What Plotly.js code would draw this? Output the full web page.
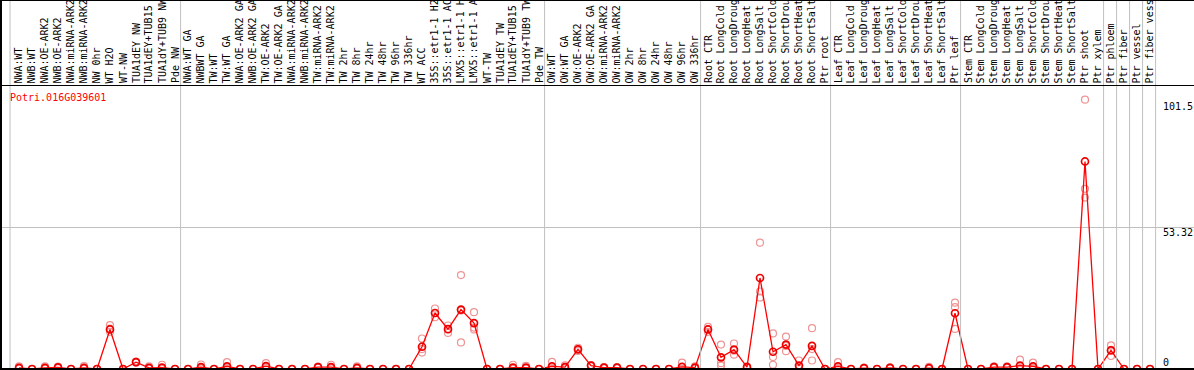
<!DOCTYPE html>
<html><head><meta charset="utf-8">
<script src="https://cdn.plot.ly/plotly-3.0.1.min.js"></script>
<style>html,body{margin:0;padding:0;background:#fff;overflow:hidden;} #chart{width:1194px;height:370px;}</style>
</head><body><div id="chart"></div>
<script>
const samples = [
  'NWA:WT','NWB:WT','NWA:OE-ARK2','NWB:OE-ARK2','NWA:miRNA-ARK2','NWB:miRNA-ARK2','NW 0hr','WT H2O','WT-NW','TUA1dEY NW','TUA1dEY+TUB15','TUA1dY+TUB9 NW','Pde NW',
  'NWA:WT GA','NWBWT GA','TW:WT','TW:WT GA','NWA:OE-ARK2 GA','NWB:OE-ARK2 GA','TW:OE-ARK2','TW:OE-ARK2 GA','NWA:miRNA-ARK2','NWB:miRNA-ARK2','TW:miRNA-ARK2','TW:miRNA-ARK2','TW 2hr','TW 8hr','TW 24hr','TW 48hr','TW 96hr','TW 336hr','WT ACC','35S::etr1-1 H2','35S::etr1-1 AC','LMX5::etr1-1 H','LMX5::etr1-1 A','WT-TW','TUA1dEY TW','TUA1dEY+TUB15','TUA1dY+TUB9 TW','Pde TW',
  'OW:WT','OW:WT GA','OW:OE-ARK2','OW:OE-ARK2 GA','OW:miRNA-ARK2','OW:miRNA-ARK2','OW 2hr','OW 8hr','OW 24hr','OW 48hr','OW 96hr','OW 336hr',
  'Root CTR','Root LongCold','Root LongDroug','Root LongHeat','Root LongSalt','Root ShortCold','Root ShortDrou','Root ShortHeat','Root ShortSalt','Ptr root',
  'Leaf CTR','Leaf LongCold','Leaf LongDroug','Leaf LongHeat','Leaf LongSalt','Leaf ShortCold','Leaf ShortDrou','Leaf ShortHeat','Leaf ShortSalt','Ptr leaf',
  'Stem CTR','Stem LongCold','Stem LongDroug','Stem LongHeat','Stem LongSalt','Stem ShortCold','Stem ShortDrou','Stem ShortHeat','Stem ShortSalt','Ptr shoot','Ptr xylem',
  'Ptr phloem','Ptr fiber','Ptr vessel','Ptr fiber vess'
];
const meanValues = [
  0.4,0,0.4,0.6,0,0.4,0,14.9,0,2.6,0.4,0.5,0,
  0,0.7,0,1.0,0,0,1.1,0,0,0,0.7,0.7,0,0.4,0,0,0,0,8.4,21.1,15.0,22.4,17.3,0,0,0.5,0.5,0,
  1.0,0.7,7.4,1.3,0.5,0.5,0,0,0,0,0.8,0.5,
  14.9,4.4,7.3,0.7,34.3,6.5,9.2,1.3,8.7,0,
  1.0,0,0.3,0,0.4,0,0,0.3,0,21.0,
  0,0,0.7,0.7,1.3,1.0,0,0,0,78.2,0,
  7.0,0,0,0
];
const rep1 = [
  1.0,0,1.0,0.9,0,1.1,0,16.5,0,2.8,1.0,1.6,0,
  0,1.7,0,2.6,0,0,2.2,0,0,0,0.9,1.6,0,1.0,0,0,0,0,11.5,22.8,16.4,35.4,21.4,0,0,1.6,1.2,0,
  2.7,1.4,8.0,1.5,0.7,0.7,0,0,0,0,2.4,1.0,
  15.9,9.2,9.6,1.0,47.6,13.4,12.2,3.2,15.4,0,
  2.6,0,0.5,0,0.6,0,0,0.8,0,25.0,
  0,0,1.0,1.0,3.5,2.4,0,0,0,101.5,0,
  8.9,0,0,0
];
const rep2 = [
  0.2,0,0.2,0.5,0,0.1,0,15.2,0,2.6,0.2,0,0,
  0,0.3,0,0.3,0,0,0.7,0,0,0,0.7,0.3,0,0.2,0,0,0,0,7.5,21.0,15.0,22.0,15.6,0,0,0.1,0.2,0,
  0.2,0.5,7.4,1.3,0.5,0.5,0,0,0,0,0,0.3,
  14.9,2.2,6.9,0.7,29.2,4.5,8.7,0.5,7.5,0,
  0.3,0,0.3,0,0.4,0,0,0.1,0,23.3,
  0,0,0.7,0.7,0.3,0.4,0,0,0,67.9,0,
  7.2,0,0,0
];
const rep3 = [
  0.1,0,0.1,0.3,0,0.1,0,14.0,0,2.4,0.1,0,0,
  0,0.2,0,0.2,0,0,0.4,0,0,0,0.5,0.2,0,0.1,0,0,0,0,6.2,19.5,13.6,10.0,14.9,0,0,0,0.1,0,
  0.1,0.2,6.8,1.1,0.3,0.3,0,0,0,0,0,0.2,
  14.0,1.3,5.4,0.4,26.9,1.6,6.7,0.2,3.2,0,
  0.1,0,0.1,0,0.2,0,0,0,0,15.1,
  0,0,0.4,0.4,0.1,0.2,0,0,0,64.6,0,
  4.9,0,0,0
];
const groupEnds = [0, 13, 41, 53, 63, 73, 84, 85, 86, 87, 88];
const yTickValues = [101.5, 53.32, 0];
const yTickLabels = ['101.5', '53.32', '0'];
const geneName = 'Potri.016G039601';

const W = 1194, H = 370, mL = 1, mR = 0, mT = 86, mB = 1;
const plotW = W - mL - mR, plotH = H - mT - mB;
const yMax = 106.64;
const xs = samples.map((_, i) => i + 1);
const pxX = px => (px - mL) / plotW;
const pxY = py => (H - mB - py) / plotH;
const FONT = 'DejaVu Sans Mono, Liberation Mono, monospace';

const repColor = '#ee9494';
const repTrace = (vals) => ({
  x: xs, y: vals, type: 'scatter', mode: 'markers', cliponaxis: false, hoverinfo: 'skip',
  marker: {symbol: 'circle-open', size: 7, color: repColor, line: {width: 1.2, color: repColor}}
});
const traces = [
  repTrace(rep1), repTrace(rep2), repTrace(rep3),
  {x: xs, y: meanValues, type: 'scatter', mode: 'lines+markers', cliponaxis: false,
   line: {color: '#ff0000', width: 1.3},
   marker: {symbol: 'circle-open', size: 7, color: '#ee0000', line: {width: 1.7, color: '#ee0000'}}}
];

const shapes = [];
groupEnds.forEach((g, k) => {
  const xv = g + (k === 0 ? 0.31 : 0.43);
  shapes.push({type: 'line', xref: 'x', yref: 'paper', x0: xv, x1: xv, y0: 0, y1: pxY(0),
    line: {color: '#c0c0c0', width: 1}});
});
shapes.push({type: 'line', xref: 'paper', yref: 'y', x0: 0, x1: 1, y0: 53.32, y1: 53.32, line: {color: '#c0c0c0', width: 1}, layer: 'below'});
shapes.push({type: 'line', xref: 'paper', yref: 'paper', x0: pxX(0), x1: 1, y0: pxY(0.5), y1: pxY(0.5), line: {color: '#000', width: 1}});
shapes.push({type: 'line', xref: 'paper', yref: 'paper', x0: pxX(0), x1: 1, y0: pxY(85.5), y1: pxY(85.5), line: {color: '#000', width: 1}});
shapes.push({type: 'line', xref: 'paper', yref: 'paper', x0: pxX(1), x1: pxX(1), y0: pxY(370), y1: pxY(0), line: {color: '#000', width: 2}});
shapes.push({type: 'line', xref: 'paper', yref: 'paper', x0: pxX(0), x1: 1, y0: pxY(369), y1: pxY(369), line: {color: '#000', width: 2}});

const annotations = samples.map((s, i) => ({
  x: i + 1, xref: 'x', y: pxY(84.6), yref: 'paper', text: s, textangle: -90,
  xanchor: 'center', yanchor: 'bottom', showarrow: false, borderpad: 0,
  font: {family: FONT, size: 10, color: '#000'}
}));
yTickValues.forEach((v, k) => {
  annotations.push({x: pxX(1162), xref: 'paper', y: v, yref: 'y', text: yTickLabels[k],
    xanchor: 'left', yanchor: v === 0 ? 'bottom' : 'top', showarrow: false, borderpad: 0,
    yshift: (v === 53.32 ? 2 : 0),
    font: {family: FONT, size: 10, color: '#000'}});
});

const layout = {
  width: W, height: H, margin: {l: mL, r: mR, t: mT, b: mB, pad: 0},
  paper_bgcolor: '#fff', plot_bgcolor: '#fff', showlegend: false,
  title: {text: geneName, x: 10 / W, xanchor: 'left', y: 1 - 97 / H, yanchor: 'middle', xref: 'container', yref: 'container',
    font: {family: FONT, size: 10, color: '#ff0000'}},
  xaxis: {range: [1 - 18 / 13, 1 - 18 / 13 + plotW / 13], showgrid: false, zeroline: false, showticklabels: false, ticks: '', showline: false, fixedrange: true},
  yaxis: {range: [0, yMax], showgrid: false, zeroline: false, showticklabels: false, ticks: '', showline: false, fixedrange: true},
  shapes: shapes, annotations: annotations
};
Plotly.newPlot('chart', traces, layout, {displayModeBar: false, staticPlot: true});
</script></body></html>
